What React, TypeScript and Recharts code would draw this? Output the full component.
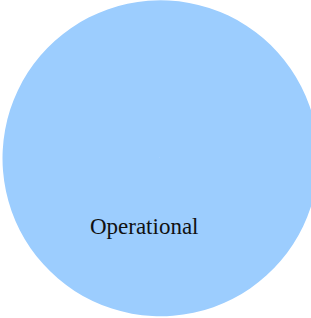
import React from 'react';
import { PieChart, Pie, Cell } from 'recharts';

const categories = ['Operational'];
const shares = [100];
const colors = ['#9ccdfe'];

const chartData = categories.map((name, i) => ({ name, value: shares[i] }));

// label sits on the slice mid angle, about half way out, baseline on that point
const renderLabel = (props: any) => {
  const { cx, cy, midAngle, outerRadius, name } = props;
  const rad = (Math.PI / 180) * midAngle;
  const r = outerRadius * 0.49;
  const x = cx + r * Math.cos(-rad);
  const y = cy + r * Math.sin(-rad);
  return (
    <text
      x={x}
      y={y}
      textAnchor="middle"
      fill="#111"
      fontFamily="'Liberation Serif', serif"
      fontSize={23}
    >
      {name}
    </text>
  );
};

const App: React.FC = () => {
  return (
    <div style={{ position: 'absolute', left: 0, top: 0 }}>
      <PieChart width={311} height={318} margin={{ top: 0, right: 0, bottom: 0, left: 0 }}>
        <Pie
          data={chartData}
          dataKey="value"
          nameKey="name"
          cx={159}
          cy={158}
          outerRadius={158}
          startAngle={79}
          endAngle={439}
          stroke="none"
          label={renderLabel}
          labelLine={false}
          isAnimationActive={false}
        >
          {chartData.map((d, i) => (
            <Cell key={d.name} fill={colors[i]} />
          ))}
        </Pie>
      </PieChart>
    </div>
  );
};

export default App;
